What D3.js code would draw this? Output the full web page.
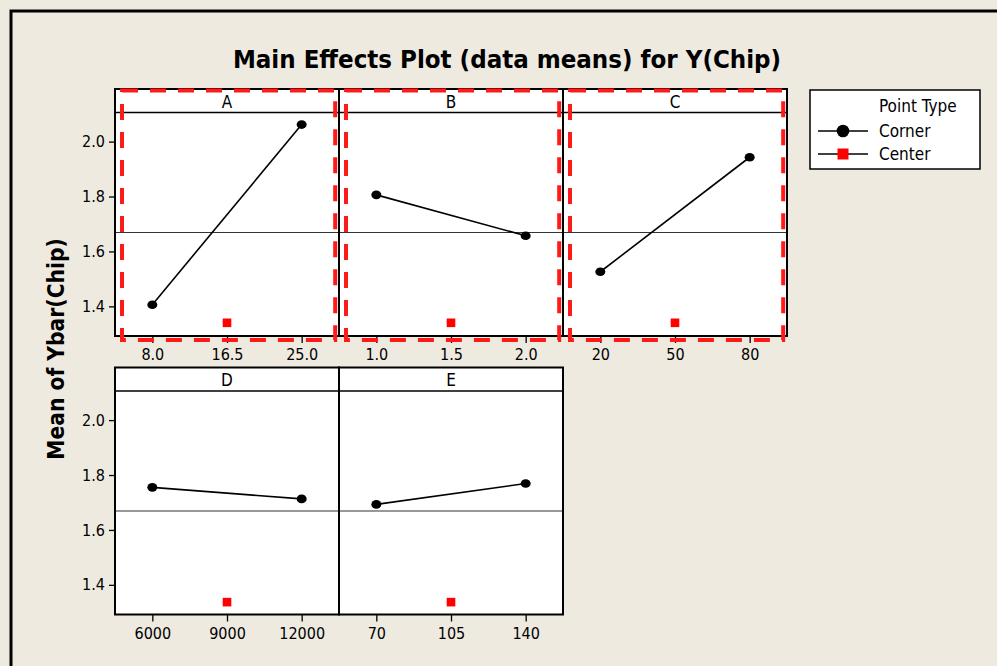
<!DOCTYPE html>
<html>
<head>
<meta charset="utf-8">
<script src="https://cdn.jsdelivr.net/npm/d3@7"></script>
<style>
  html, body { margin: 0; padding: 0; background: #eeeae0; }
  svg { display: block; }
</style>
</head>
<body>
<div id="chart"></div>
<script>
const factors = ['A', 'B', 'C', 'D', 'E'];
const levels = [[8.0, 16.5, 25.0], [1.0, 1.5, 2.0], [20, 50, 80], [6000, 9000, 12000], [70, 105, 140]];
const tickLabels = [['8.0', '16.5', '25.0'], ['1.0', '1.5', '2.0'], ['20', '50', '80'], ['6000', '9000', '12000'], ['70', '105', '140']];
const cornerMeans = [[1.406, 2.062], [1.806, 1.657], [1.526, 1.943], [1.755, 1.713], [1.693, 1.769]];
const centerMeans = [1.34, 1.34, 1.34, 1.337, 1.337];
const grandMean = 1.669;
const yTicks = [1.4, 1.6, 1.8, 2.0];
const yDomain = [1.292, 2.106];
const highlighted = ['A', 'B', 'C'];
const legendItems = ['Corner', 'Center'];

const width = 997, height = 666;
const font = '"DejaVu Sans Condensed", "DejaVu Sans", sans-serif';

const left = 115, panelW = 224, panelH = 247, stripH = 23.5;
const rowTops = [89, 367.5];
const perRow = 3;

const svg = d3.select('#chart').append('svg')
    .attr('width', width)
    .attr('height', height)
    .attr('viewBox', `0 0 ${width} ${height}`)
    .style('font-family', font);

svg.append('rect')
    .attr('width', width).attr('height', height)
    .attr('fill', '#eeeae0');

// outer frame (only top/left edges visible)
svg.append('rect')
    .attr('x', 11).attr('y', 11)
    .attr('width', 1000).attr('height', 700)
    .attr('fill', 'none')
    .attr('stroke', '#000')
    .attr('stroke-width', 3);

svg.append('text')
    .attr('x', 507).attr('y', 68)
    .attr('text-anchor', 'middle')
    .attr('font-weight', 'bold')
    .attr('font-size', 25.6)
    .text('Main Effects Plot (data means) for Y(Chip)');

svg.append('text')
    .attr('transform', 'translate(64,349) rotate(-90)')
    .attr('text-anchor', 'middle')
    .attr('font-weight', 'bold')
    .attr('font-size', 22.6)
    .text('Mean of Ybar(Chip)');

factors.forEach((f, i) => {
  const row = Math.floor(i / perRow), col = i % perRow;
  const x0 = left + col * panelW, y0 = rowTops[row];

  const lo = levels[i][0], hi = levels[i][2];
  const pad = (hi - lo) / 4;
  const x = d3.scaleLinear()
      .domain([lo - pad, hi + pad])
      .range([x0, x0 + panelW]);
  const y = d3.scaleLinear()
      .domain(yDomain)
      .range([y0 + panelH, y0 + stripH]);

  const g = svg.append('g');

  g.append('rect')
      .attr('x', x0).attr('y', y0)
      .attr('width', panelW).attr('height', panelH)
      .attr('fill', '#fff');

  g.append('text')
      .attr('x', x0 + panelW / 2).attr('y', y0 + stripH - 5)
      .attr('text-anchor', 'middle')
      .attr('font-size', 17)
      .text(f);

  // grand mean reference line
  g.append('line')
      .attr('x1', x0).attr('x2', x0 + panelW)
      .attr('y1', y(grandMean)).attr('y2', y(grandMean))
      .attr('stroke', '#333')
      .attr('stroke-width', 1.2);

  const corner = [[levels[i][0], cornerMeans[i][0]], [levels[i][2], cornerMeans[i][1]]];
  g.append('path')
      .datum(corner)
      .attr('fill', 'none')
      .attr('stroke', '#000')
      .attr('stroke-width', 1.6)
      .attr('d', d3.line().x(d => x(d[0])).y(d => y(d[1])));

  g.selectAll('ellipse')
    .data(corner)
    .join('ellipse')
      .attr('cx', d => x(d[0]))
      .attr('cy', d => y(d[1]))
      .attr('rx', 5).attr('ry', 4.3)
      .attr('fill', '#000');

  g.append('rect')
      .attr('x', x(levels[i][1]) - 4.3)
      .attr('y', y(centerMeans[i]) - 4.3)
      .attr('width', 8.6).attr('height', 8.6)
      .attr('fill', '#ff0000');

  // frame and strip
  g.append('rect')
      .attr('x', x0).attr('y', y0)
      .attr('width', panelW).attr('height', panelH)
      .attr('fill', 'none')
      .attr('stroke', '#000')
      .attr('stroke-width', 2);
  g.append('line')
      .attr('x1', x0).attr('x2', x0 + panelW)
      .attr('y1', y0 + stripH).attr('y2', y0 + stripH)
      .attr('stroke', '#000')
      .attr('stroke-width', 1.5);

  const xAxis = d3.axisBottom(x)
      .tickValues(levels[i])
      .tickFormat((d, k) => tickLabels[i][k])
      .tickSize(7)
      .tickPadding(6);
  g.append('g')
      .attr('transform', `translate(0,${y0 + panelH})`)
      .call(xAxis)
      .call(a => a.select('.domain').remove())
      .call(a => a.selectAll('line').attr('stroke', '#000').attr('stroke-width', 1.3))
      .call(a => a.selectAll('text').attr('font-size', 16).attr('font-family', font).attr('fill', '#000'));

  if (col === 0) {
    const yAxis = d3.axisLeft(y)
        .tickValues(yTicks)
        .tickFormat(d3.format('.1f'))
        .tickSize(6)
        .tickPadding(4);
    g.append('g')
        .attr('transform', `translate(${x0},0)`)
        .call(yAxis)
        .call(a => a.select('.domain').remove())
        .call(a => a.selectAll('line').attr('stroke', '#000').attr('stroke-width', 1.3))
        .call(a => a.selectAll('text').attr('font-size', 16).attr('font-family', font).attr('fill', '#000'));
  }

  if (highlighted.includes(f)) {
    svg.append('rect')
        .attr('x', x0 + 7).attr('y', y0 + 1.5)
        .attr('width', panelW - 10.8).attr('height', panelH + 2.5)
        .attr('fill', 'none')
        .attr('stroke', '#ff1a1a')
        .attr('stroke-width', 4)
        .attr('stroke-dasharray', '16,12');
  }
});

// legend
const legend = svg.append('g').attr('transform', 'translate(810,90)');
legend.append('rect')
    .attr('width', 170).attr('height', 79)
    .attr('fill', '#fff')
    .attr('stroke', '#000')
    .attr('stroke-width', 1.5);
legend.append('text')
    .attr('x', 69).attr('y', 22)
    .attr('font-size', 17)
    .text('Point Type');
const item = legend.selectAll('g.item')
  .data(legendItems)
  .join('g')
    .attr('class', 'item')
    .attr('transform', (d, i) => `translate(0,${41 + i * 23})`);
item.append('line')
    .attr('x1', 8).attr('x2', 58)
    .attr('stroke', '#000')
    .attr('stroke-width', 1.5);
item.filter((d, i) => i === 0).append('circle')
    .attr('cx', 33).attr('r', 6.3)
    .attr('fill', '#000');
item.filter((d, i) => i === 1).append('rect')
    .attr('x', 27.5).attr('y', -5.5)
    .attr('width', 11).attr('height', 11)
    .attr('fill', '#ff0000');
item.append('text')
    .attr('x', 69).attr('y', 6)
    .attr('font-size', 17)
    .text(d => d);
</script>
</body>
</html>
